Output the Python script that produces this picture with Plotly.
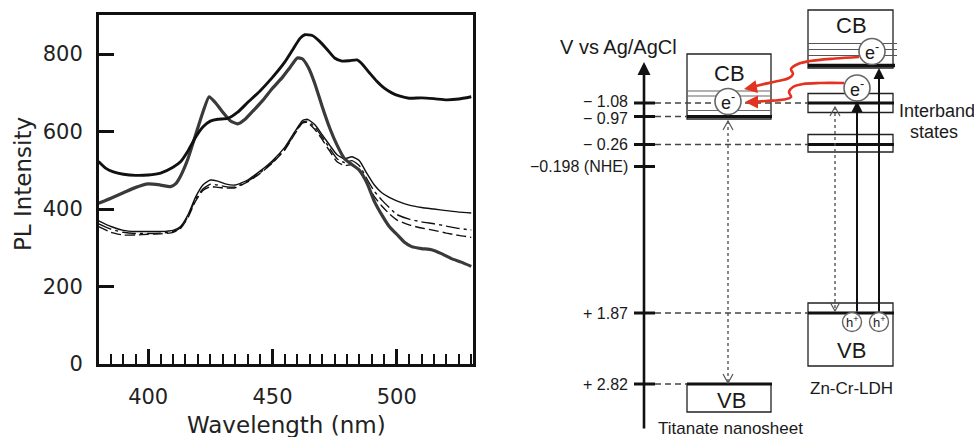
import plotly.graph_objects as go

# ---------------- PL emission spectra ----------------
wl_a = [380, 383, 386, 390, 395, 400, 405, 410, 413, 416, 419, 422, 425, 428, 432, 436, 440, 445, 450, 455,
        458, 461, 463, 466, 469, 472, 475, 478, 481, 484, 486, 489, 492, 495, 498, 501, 505, 510, 515, 520, 525, 530]
pl_a = [523, 505, 496, 490, 487, 488, 493, 508, 522, 550, 585, 612, 627, 632, 634, 650, 675, 705, 740, 780,
        810, 840, 850, 848, 833, 812, 790, 782, 783, 785, 775, 752, 730, 712, 700, 692, 686, 687, 685, 682, 684, 690]

wl_b = [380, 385, 390, 395, 400, 405, 409, 411, 413, 416, 419, 422, 424.5, 427, 430, 433, 436, 439, 442, 446,
        450, 454, 457, 460, 462, 464.5, 467, 470, 473, 476, 479, 482, 485, 488, 491, 494, 497, 500, 503, 506,
        510, 514, 518, 522, 526, 530]
pl_b = [415, 428, 442, 456, 465, 462, 458, 465, 485, 530, 590, 650, 690, 675, 650, 628, 620, 632, 652, 680,
        712, 740, 765, 790, 788, 765, 725, 665, 610, 565, 530, 515, 500, 468, 420, 385, 355, 335, 315, 303,
        298, 295, 285, 272, 263, 252]

wl_cde = [380, 385, 390, 395, 400, 405, 410, 413, 416, 419, 422, 425, 428, 431, 435, 440, 445, 450, 455, 459,
          462, 464, 467, 470, 473, 476, 479, 482, 485, 488, 491, 494, 497, 500, 505, 510, 515, 520, 525, 530]
pl_c = [370, 355, 345, 342, 342, 342, 345, 355, 385, 430, 462, 475, 472, 465, 462, 475, 498, 525, 560, 600,
        628, 632, 618, 592, 565, 540, 530, 535, 525, 492, 462, 442, 430, 421, 410, 404, 400, 396, 392, 390]
pl_d = [362, 348, 340, 337, 337, 338, 342, 352, 380, 425, 452, 464, 462, 458, 457, 472, 494, 521, 555, 596,
        624, 627, 612, 586, 557, 530, 520, 525, 512, 478, 446, 423, 404, 386, 374, 367, 362, 356, 350, 346]
pl_e = [355, 340, 333, 333, 335, 336, 340, 350, 378, 420, 448, 458, 456, 454, 455, 470, 492, 519, 553, 594,
        622, 624, 606, 580, 550, 522, 512, 515, 500, 465, 432, 408, 388, 372, 359, 351, 345, 338, 332, 327]

y_ticks = [0, 200, 400, 600, 800]

# ---------------- Band diagram ----------------
# potentials (V vs Ag/AgCl) and their place on the (non-linear) schematic scale
level_labels = ["\u2212 1.08", "\u2212 0.97", "\u2212 0.26", "\u22120.198 (NHE)", "+ 1.87", "+ 2.82"]
level_values = [-1.08, -0.97, -0.26, -0.198, 1.87, 2.82]
level_pos = [103, 116.5, 144.5, 166.5, 313, 384]
# small vertical nudges so the two close labels do not collide
label_nudge = [-2, 2, 0, 0, 0, 0]
# which column each level belongs to: "ti" titanate, "ldh" Zn-Cr-LDH, None = reference only
level_owner = ["ldh", "ti", "ldh", None, "ldh", "ti"]

W, H = 974, 437
FONT_L = "DejaVu Sans"
FONT_R = "Liberation Sans, Arial, sans-serif"
INK = "#111111"
GREY = "#555555"
RED = "#e3321f"

fig = go.Figure()

# spectra
spec_styles = [
    (wl_cde, pl_c, dict(color=INK, width=1.4)),
    (wl_cde, pl_d, dict(color=INK, width=1.4, dash="14px,4px,3px,4px")),
    (wl_cde, pl_e, dict(color=INK, width=1.4, dash="10px,4px")),
    (wl_b, pl_b, dict(color="#3a3a3a", width=3.2)),
    (wl_a, pl_a, dict(color=INK, width=2.9)),
]
for xs, ys, ln in spec_styles:
    fig.add_trace(go.Scatter(x=xs, y=ys, mode="lines", xaxis="x", yaxis="y",
                             line=dict(shape="spline", smoothing=0.5, **ln), hoverinfo="skip"))

# ---- band diagram geometry (diagram units) ----
AX_X = 644
TI = (687, 771)
LDH = (808, 893)
col = {"ti": TI, "ldh": LDH}
ypos = dict(zip(level_values, level_pos))

shapes = []


def line(x0, y0, x1, y1, color=INK, width=1.3, dash=None, layer="below"):
    shapes.append(dict(type="line", xref="x2", yref="y2", x0=x0, y0=y0, x1=x1, y1=y1,
                       layer=layer, line=dict(color=color, width=width, dash=dash)))


def rect(x0, y0, x1, y1):
    shapes.append(dict(type="rect", xref="x2", yref="y2", x0=x0, y0=y0, x1=x1, y1=y1,
                       layer="below", line=dict(color="#222", width=1.3), fillcolor="rgba(0,0,0,0)"))


def circle(cx, cy, r, width=1.6):
    shapes.append(dict(type="circle", xref="x2", yref="y2", x0=cx - r, y0=cy - r, x1=cx + r, y1=cy + r,
                       layer="above", line=dict(color="#666", width=width), fillcolor="white"))


def chevron(x, y, up=True):
    d = 9 if up else -9
    shapes.append(dict(type="path", xref="x2", yref="y2", layer="below",
                       path=f"M {x-5},{y+d} L {x},{y} L {x+5},{y+d}",
                       line=dict(color=GREY, width=1.2)))


# boxes
rect(TI[0], 54, TI[1], 119)          # titanate CB
rect(TI[0], ypos[2.82], TI[1], 412)  # titanate VB
rect(LDH[0], 10, LDH[1], 68)         # LDH CB
rect(LDH[0], 93.5, LDH[1], 112.5)    # interband state 1
rect(LDH[0], 134.5, LDH[1], 152)     # interband state 2
rect(LDH[0], 303, LDH[1], 366)       # LDH VB

# filled-state lines inside the conduction bands
for yy in (91, 96, 110.5):
    line(TI[0], yy, TI[1], yy, color="#666", width=1.1)
for yy in (43.5, 49.5, 55.5):
    line(LDH[0], yy, LDH[1] + 4, yy, color="#555", width=1.1)
line(LDH[0], 65.5, LDH[1] + 2, 65.5, width=3.5)

# dashed guides from the potential axis + band-edge lines
for lab, val, owner in zip(level_labels, level_values, level_owner):
    yy = ypos[val]
    line(AX_X - 10, yy, AX_X + 11, yy, width=3)
    if owner is None:
        continue
    x0, x1 = col[owner]
    line(AX_X + 11, yy, x0, yy, color="#444", width=1.4, dash="6px,4px")
    line(x0, yy, x1 + 1, yy, width=3)

# dotted excitation/relaxation paths
line(728, 121, 728, 383, color=GREY, width=1.4, dash="dot")
chevron(728, 121, up=True)
chevron(728, 383, up=False)
line(835, 107, 835, 311, color=GREY, width=1.4, dash="dot")
chevron(835, 107, up=True)
chevron(835, 311, up=False)

# electrons and holes
circle(728, 101.5, 13)
circle(872, 51.5, 13)
circle(857, 88, 13)
circle(852, 322, 9.5, width=1.4)
circle(879, 322, 9.5, width=1.4)

# red electron-transfer paths
red_paths = [
    ([859, 835, 810, 798, 791, 793, 789, 778, 760, 750], [57, 58.5, 61, 64, 69, 74, 78, 81, 85, 88]),
    ([844, 820, 803, 793, 789, 791, 784, 766, 752], [83, 83, 84, 87, 92, 97, 99.5, 101, 102]),
]
for xs, ys in red_paths:
    fig.add_trace(go.Scatter(x=xs, y=ys, mode="lines", xaxis="x2", yaxis="y2", hoverinfo="skip",
                             line=dict(color=RED, width=2.6, shape="spline", smoothing=1.0)))

ann = []


def arrow(x, y, ax, ay, color=INK, width=2, size=1.0):
    ann.append(dict(xref="x2", yref="y2", axref="x2", ayref="y2", x=x, y=y, ax=ax, ay=ay, text="",
                    showarrow=True, arrowhead=2, arrowsize=size, arrowwidth=width, arrowcolor=color))


def label(x, y, text, size=16, xanchor="center", color="#1a1a1a", font=FONT_R):
    ann.append(dict(xref="x2", yref="y2", x=x, y=y, text=text, showarrow=False, xanchor=xanchor,
                    yanchor="middle", font=dict(family=font, size=size, color=color)))


# potential axis
arrow(AX_X, 62, AX_X, 430, width=2.6, size=1.0)
label(618, 47, "V vs Ag/AgCl", size=20)
for lab, val, dy in zip(level_labels, level_values, label_nudge):
    label(AX_X - 14, ypos[val] + dy, lab, size=16, xanchor="right")

# excitation arrows in Zn-Cr-LDH
arrow(857, 101, 857, 313, width=2, size=1.1)
arrow(879, 68, 879, 313, width=2, size=1.1)

# red arrow heads
arrow(744, 89, 752, 87.5, color=RED, width=2.6, size=1.0)
arrow(745, 102, 753, 102, color=RED, width=2.6, size=1.0)

# texts
label(729, 73, "CB", size=22)
label(851, 25, "CB", size=22)
label(851, 350, "VB", size=22)
label(731, 400, "VB", size=22)
label(728, 101.5, "e<sup>-</sup>", size=18)
label(872, 51.5, "e<sup>-</sup>", size=18)
label(857, 88, "e<sup>-</sup>", size=18)
label(852, 322, "h<sup>+</sup>", size=13)
label(879, 322, "h<sup>+</sup>", size=13)
label(897, 111, "Interband", size=18, xanchor="left")
label(934, 132, "states", size=18)
label(851, 388, "Zn-Cr-LDH", size=17)
label(730, 428, "Titanate nanosheet", size=17)

# left-panel axis titles
ann.append(dict(xref="paper", yref="paper", x=286 / W, y=1 - 425 / H, text="Wavelength (nm)", showarrow=False,
                xanchor="center", yanchor="middle", font=dict(family=FONT_L, size=23, color="#222")))
ann.append(dict(xref="paper", yref="paper", x=23 / W, y=1 - 184 / H, text="PL Intensity", showarrow=False,
                textangle=-90, xanchor="center", yanchor="middle", font=dict(family=FONT_L, size=23, color="#222")))

fig.update_layout(
    width=W, height=H, margin=dict(l=0, r=0, t=0, b=0),
    paper_bgcolor="white", plot_bgcolor="white", showlegend=False,
    shapes=shapes, annotations=ann,
    xaxis=dict(domain=[99 / W, 473 / W], range=[380.2, 530.7], anchor="y",
               showline=True, mirror=True, linewidth=3, linecolor=INK,
               ticks="inside", ticklen=15, tickwidth=3, tickcolor=INK, tick0=400, dtick=50,
               minor=dict(ticks="inside", dtick=5, tick0=400, ticklen=10, tickwidth=2, tickcolor=INK,
                          showgrid=False),
               showgrid=False, zeroline=False, automargin=False, ticklabelstandoff=12,
               tickfont=dict(family=FONT_L, size=21, color="#222")),
    yaxis=dict(domain=[1 - 364 / H, 1 - 15 / H], range=[0, 901], anchor="x",
               showline=True, mirror=True, linewidth=3, linecolor=INK,
               ticks="inside", ticklen=15, tickwidth=3, tickcolor=INK, tickvals=y_ticks,
               showgrid=False, zeroline=False, automargin=False, ticklabelstandoff=9,
               tickfont=dict(family=FONT_L, size=21, color="#222")),
    xaxis2=dict(domain=[530 / W, 1], range=[530, 974], anchor="y2", visible=False),
    yaxis2=dict(domain=[0, 1], range=[437, 0], anchor="x2", visible=False),
)

fig.write_html("out.html")
